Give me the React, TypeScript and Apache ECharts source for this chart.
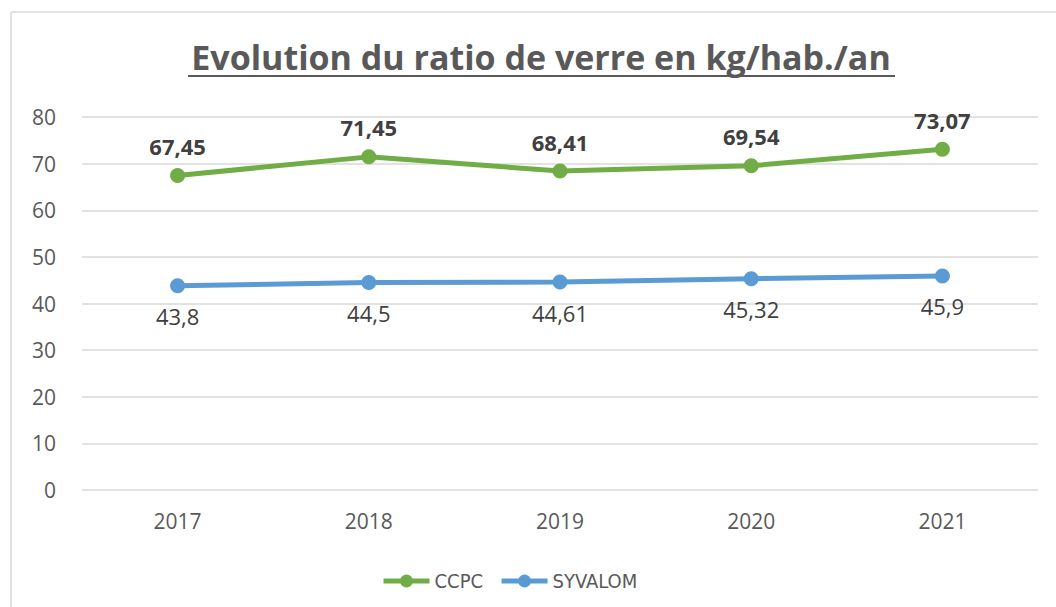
import React, { useEffect, useRef } from "react";
import * as echarts from "echarts";

const categories = ["2017", "2018", "2019", "2020", "2021"];
const ccpc = [67.45, 71.45, 68.41, 69.54, 73.07];
const syvalom = [43.8, 44.5, 44.61, 45.32, 45.9];
const titleText = "Evolution du ratio de verre en kg/hab./an";

const fmt = (v: number) => String(v).replace(".", ",");

export default function App() {
  const ref = useRef<HTMLDivElement>(null);
  useEffect(() => {
    if (!ref.current) return;
    const chart = echarts.init(ref.current, null, { renderer: "svg" });
    chart.setOption({
      animation: false,
      backgroundColor: "#ffffff",
      graphic: [
        { type: "line", shape: { x1: 11, y1: 12, x2: 1056, y2: 12 }, style: { stroke: "#d9d9d9", lineWidth: 1.5 } },
        { type: "line", shape: { x1: 11, y1: 12, x2: 11, y2: 607 }, style: { stroke: "#d9d9d9", lineWidth: 1.5 } },
        {
          type: "text",
          x: 541,
          y: 57,
          style: {
            text: titleText,
            fill: "#595959",
            font: "bold 34px 'Open Sans', sans-serif",
            align: "center",
            verticalAlign: "middle",
          },
        },
        { type: "line", shape: { x1: 188, y1: 76, x2: 895, y2: 76 }, style: { stroke: "#595959", lineWidth: 2 } },
      ],
      legend: {
        top: 566,
        left: 376,
        itemWidth: 46,
        itemHeight: 16,
        itemGap: 16,
        lineStyle: { width: 5 },
        textStyle: {
          color: "#595959",
          fontSize: 20,
          fontFamily: "'Liberation Sans Narrow', 'DejaVu Sans Condensed', sans-serif",
        },
        data: ["CCPC", "SYVALOM"],
      },
      grid: { left: 82, right: 18, top: 117, bottom: 117 },
      xAxis: {
        type: "category",
        data: categories,
        axisLine: { show: false },
        axisTick: { show: false },
        axisLabel: { color: "#595959", fontSize: 21, margin: 20, fontFamily: "'Open Sans', sans-serif" },
      },
      yAxis: {
        type: "value",
        min: 0,
        max: 80,
        interval: 10,
        axisLine: { show: false },
        axisTick: { show: false },
        splitLine: { lineStyle: { color: "#d9d9d9", width: 1.5 } },
        axisLabel: { color: "#595959", fontSize: 21, margin: 26, fontFamily: "'Open Sans', sans-serif" },
      },
      series: [
        {
          name: "CCPC",
          type: "line",
          data: ccpc,
          color: "#70AD47",
          symbol: "circle",
          symbolSize: 15,
          lineStyle: { width: 5, color: "#70AD47" },
          itemStyle: { color: "#70AD47" },
          label: {
            show: true,
            position: "top",
            distance: 11,
            color: "#404040",
            fontSize: 22,
            fontWeight: "bold",
            fontFamily: "'Open Sans', sans-serif",
            formatter: (p: any) => fmt(p.value),
          },
        },
        {
          name: "SYVALOM",
          type: "line",
          data: syvalom,
          color: "#5B9BD5",
          symbol: "circle",
          symbolSize: 15,
          lineStyle: { width: 5, color: "#5B9BD5" },
          itemStyle: { color: "#5B9BD5" },
          label: {
            show: true,
            position: "bottom",
            distance: 12,
            color: "#404040",
            fontSize: 22,
            fontFamily: "'Open Sans', sans-serif",
            formatter: (p: any) => fmt(p.value),
          },
        },
      ],
    });
    return () => chart.dispose();
  }, []);
  return <div ref={ref} style={{ position: "fixed", left: 0, top: 0, width: 1056, height: 607 }} />;
}
